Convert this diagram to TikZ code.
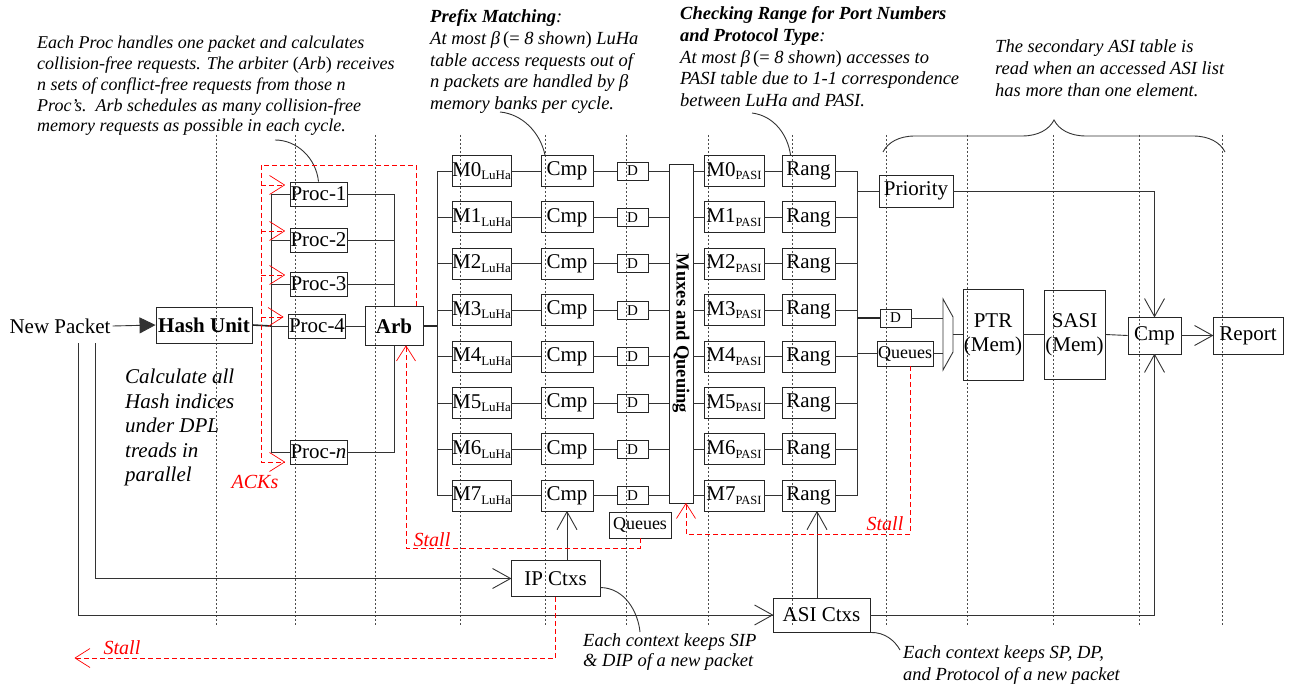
\documentclass[tikz,border=0pt]{standalone}
\usepackage{fontspec}
\setmainfont{Liberation Serif}
\usetikzlibrary{arrows.meta,calc,decorations.pathreplacing}
\newcommand{\myfs}[2]{\fontsize{#1}{#2}\selectfont}
\newcommand{\lsub}[1]{\raisebox{-3.5pt}{\myfs{13}{13}#1}}
\newcommand{\psub}[1]{\raisebox{-3.5pt}{\myfs{12.5}{13}#1}}
\pgfdeclarearrow{
  name = BigV,
  setup code = {},
  drawing code = {
    \pgfsetdash{}{0pt}
    \pgfsetroundjoin
    \pgfpathmoveto{\pgfpoint{-18pt}{10pt}}
    \pgfpathlineto{\pgfpointorigin}
    \pgfpathlineto{\pgfpoint{-18pt}{-10pt}}
    \pgfusepathqstroke
  }
}
\pgfdeclarearrow{
  name = RedV,
  setup code = {},
  drawing code = {
    \pgfsetdash{}{0pt}
    \pgfsetroundjoin
    \pgfpathmoveto{\pgfpoint{-15pt}{9.5pt}}
    \pgfpathlineto{\pgfpointorigin}
    \pgfpathlineto{\pgfpoint{-15pt}{-9.5pt}}
    \pgfusepathqstroke
  }
}
\begin{document}
\begin{tikzpicture}[x=1pt,y=-1pt,
  box/.style={draw=black!85,line width=0.9pt,inner sep=0pt,font=\myfs{21}{24}},
  conn/.style={draw=black!80,line width=0.9pt},
  thk/.style={draw=black!85,line width=1.6pt},
  arr/.style={conn,-BigV},
  ack/.style={draw=red,line width=0.7pt,dash pattern=on 5pt off 3pt,-RedV},
  guide/.style={draw=black!70,line width=0.5pt,dash pattern=on 2pt off 2pt},
  redlbl/.style={text=red,font=\itshape\myfs{20}{22},inner sep=0pt},
  note/.style={anchor=north west,align=left,inner sep=0pt,font=\itshape\myfs{18}{20.8}},
]
\useasboundingbox (0,0) rectangle (1289,684);

% guide lines
\foreach \xx in {216,295,375,460,545,626,708,792,886,967,1053,1139,1222}
  \draw[guide] (\xx,135) -- (\xx,626);

% texts
\node[note] (T1) at (37,36) {Each Proc handles one packet and calculates\\
collision-free requests. The arbiter \textup{(}Arb\textup{)} receives\\
n sets of conflict-free requests from those n\\
Proc’s.\ \ Arb schedules as many collision-free\\
memory requests as possible in each cycle.};
\node[note,font=\itshape\myfs{18.5}{21.7}] (T2) at (430,9.5) {\textbf{Prefix Matching}:\\
At most β\,\textup{(=} 8 shown\textup{)} LuHa\\
table access requests out of\\
n packets are handled by β\\
memory banks per cycle.};
\node[note,font=\itshape\myfs{18.5}{21.7}] (T3) at (680,6.5) {\textbf{Checking Range for Port Numbers}\\
\textbf{and Protocol Type}:\\
At most β\,\textup{(=} 8 shown\textup{)} accesses to\\
PASI table due to 1-1 correspondence\\
between LuHa and PASI.};
\node[note,font=\itshape\myfs{18.5}{22}] (T4) at (995,39.5) {The secondary ASI table is\\
read when an accessed ASI list\\
has more than one element.};
\node[note,font=\itshape\myfs{21}{24.5}] (T5) at (125,369) {Calculate all\\Hash indices\\under DPL\\treads in\\parallel};
\node[note,font=\itshape\myfs{18.5}{20}] (T6) at (583,633.5) {Each context keeps SIP\\\& DIP of a new packet};
\node[note,font=\itshape\myfs{18.5}{22}] (T7) at (903,645.5) {Each context keeps SP, DP,\\and Protocol of a new packet};

% brace
\draw[conn,decorate,decoration={brace,amplitude=32pt}] (883,152) -- (1225,152);

% left part
\node[inner sep=2pt,font=\myfs{21}{24}] (NP) at (60,326) {New Packet};
\node[box,minimum width=96,minimum height=36,font=\bfseries\myfs{21}{24}] (Hash) at (204,325) {Hash Unit};
\draw[conn,-{Triangle[length=16pt,width=16pt]}] (NP.east) -- (Hash.west);

\node[box,minimum width=57,minimum height=24] (P1) at (318.5,194) {Proc-1};
\node[box,minimum width=57,minimum height=24] (P2) at (318.5,240) {Proc-2};
\node[box,minimum width=57,minimum height=24] (P3) at (318.5,284) {Proc-3};
\node[box,minimum width=57,minimum height=24] (P4) at (317,326) {Proc-4};
\node[box,minimum width=57,minimum height=24] (Pn) at (318.5,452) {Proc-\textit{n}};
\node[box,minimum width=58,minimum height=39,font=\bfseries\myfs{21}{24}] (Arb) at (394,326) {Arb};

\coordinate (busH) at (271,326);
\draw[thk] (Hash.east) -- (busH);
\foreach \p in {P1,P2,P3,P4,Pn} \draw[conn] (\p.west) -| (busH);
\foreach \p in {P1,P2,P3} \draw[conn] (\p.east) -| (Arb.north);
\draw[conn] (P4.east) -- (Arb.west);
\draw[conn] (Pn.east) -| (Arb.south);
\coordinate (busL) at (437,326);
\draw[thk] (Arb.east) -- (busL);
\coordinate (busR) at (857,318);

% mux box
\node[box,minimum width=24,minimum height=339,font=\bfseries\myfs{18.5}{20}] (Mux) at (681,333.5) {\rotatebox{-90}{Muxes and Queuing}};

% rows
\foreach \i in {0,...,7}{
  \pgfmathsetmacro{\yy}{171+46.4*\i}
  \node[box,minimum width=59,minimum height=31] (ML\i) at (481.5,\yy) {M\i\lsub{LuHa}};
  \node[box,minimum width=52,minimum height=31] (C\i) at (567,\yy) {Cmp};
  \node[box,minimum width=31,minimum height=18,font=\myfs{15}{16}] (D\i) at (632.5,\yy) {D};
  \node[box,minimum width=60,minimum height=31] (MP\i) at (734,\yy) {M\i\psub{PASI}};
  \node[box,minimum width=53,minimum height=31] (R\i) at (808.5,\yy) {Rang};
  \draw[conn] (ML\i.west) -| (busL);
  \draw[conn] (ML\i.east) -- (C\i.west);
  \draw[conn] (C\i.east) -- (D\i.west);
  \draw[conn] (D\i.east) -- (D\i.east -| Mux.west);
  \draw[conn] (Mux.east |- MP\i.west) -- (MP\i.west);
  \draw[conn] (MP\i.east) -- (R\i.west);
  \draw[conn] (R\i.east) -| (busR);
}

\node[box,minimum width=62,minimum height=26,font=\myfs{18}{20}] (QL) at (640,525) {Queues};

% right part
\node[box,minimum width=74,minimum height=32] (Pri) at (916,191) {Priority};
\node[box,minimum width=31,minimum height=18,font=\myfs{15}{16}] (DR) at (895.5,318) {D};
\node[box,minimum width=56,minimum height=25,font=\myfs{18}{20}] (QR) at (905,353.5) {Queues};
\draw[conn] (busR |- Pri.west) -- (Pri.west);
\draw[thk] (busR) -- (DR.west);
\draw[conn] (busR |- QR.west) -- (QR.west);

\coordinate (tA) at (943,299);
\coordinate (tB) at (953,317);
\coordinate (tC) at (953,352);
\coordinate (tD) at (943,370);
\coordinate (tOut) at (953,334.5);
\draw[conn] (tA) -- (tB) -- (tC) -- (tD) -- cycle;
\draw[conn] (DR.east) -- (DR.east -| tA);
\draw[conn] (QR.east) -- (QR.east -| tA);

\node[box,minimum width=60,minimum height=91,align=center] (PTR) at (993,334.5) {PTR\\(Mem)};
\node[box,minimum width=61,minimum height=89,align=center] (SASI) at (1074.5,334.5) {SASI\\(Mem)};
\node[box,minimum width=53,minimum height=37] (CmpR) at (1154.5,335.5) {Cmp};
\node[box,minimum width=70,minimum height=37] (Rep) at (1248,335.5) {Report};
\draw[conn] (tOut) -- (PTR.west);
\draw[conn] (PTR.east) -- (SASI.west);
\draw[conn] (SASI.east) -- (CmpR.west);
\draw[arr] (CmpR.east) -- (Rep.west);
\draw[arr] (Pri.east) -| (CmpR.north);

% contexts
\node[box,minimum width=89,minimum height=36] (IP) at (555.5,578.5) {IP Ctxs};
\node[box,minimum width=97,minimum height=34] (ASI) at (821.5,615) {ASI Ctxs};
\draw[arr] (IP.north -| C7.south) -- (C7.south);
\coordinate (asiUp) at ([xshift=-4.5pt]ASI.north);
\draw[arr] (asiUp) -- (asiUp |- R7.south);
\draw[arr] (ASI.east) -| (CmpR.south);
\coordinate (np1) at (95,343);
\coordinate (np2) at (78,343);
\draw[arr] (np1) |- (IP.west);
\draw[arr] (np2) |- (ASI.west);

% annotation curves
\coordinate (c1s) at (275,140);
\draw[conn] (c1s) .. controls (297,140) and (316,158) .. (P1.north);
\coordinate (c2s) at (500,112);
\draw[conn] (c2s) .. controls (522,114) and (540,132) .. ([xshift=-22pt]C0.north);
\coordinate (c3s) at (752,113);
\draw[conn] (c3s) .. controls (775,116) and (788,136) .. ([xshift=-18pt]R0.north);
\coordinate (c4e) at (640,632);
\draw[conn] ([yshift=-9pt]IP.east) .. controls (625,588) and (638,612) .. (c4e);
\coordinate (c5e) at (900,650);
\draw[conn] (ASI.south east) .. controls (885,632) and (895,641) .. (c5e);

% red ACK / stall lines
\coordinate (ackTL) at (261,165);
\draw[ack] ([xshift=22pt]Arb.north) |- (ackTL) |- ($(Pn.west)+(-5,10)$);
\foreach \p in {P1,P2,P3,P4}{
  \path ($(\p.west)+(-5,-9)$) coordinate (a\p);
  \draw[ack] (a\p -| ackTL) -- (a\p);
}
\coordinate (stL) at (406,548);
\draw[ack] (QL.south) |- (stL) -- (stL |- Arb.south);
\coordinate (stR) at (686,534);
\draw[ack] ([xshift=5pt]QR.south) |- (stR) -- (stR |- Mux.south);
\coordinate (stB) at (75,658);
\draw[ack] (IP.south) |- (stB);

\node[redlbl] (lACK) at (255,482) {ACKs};
\node[redlbl] (lS1) at (432,540) {Stall};
\node[redlbl] (lS2) at (885,524) {Stall};
\node[redlbl] (lS3) at (122,648) {Stall};
\end{tikzpicture}
\end{document}
